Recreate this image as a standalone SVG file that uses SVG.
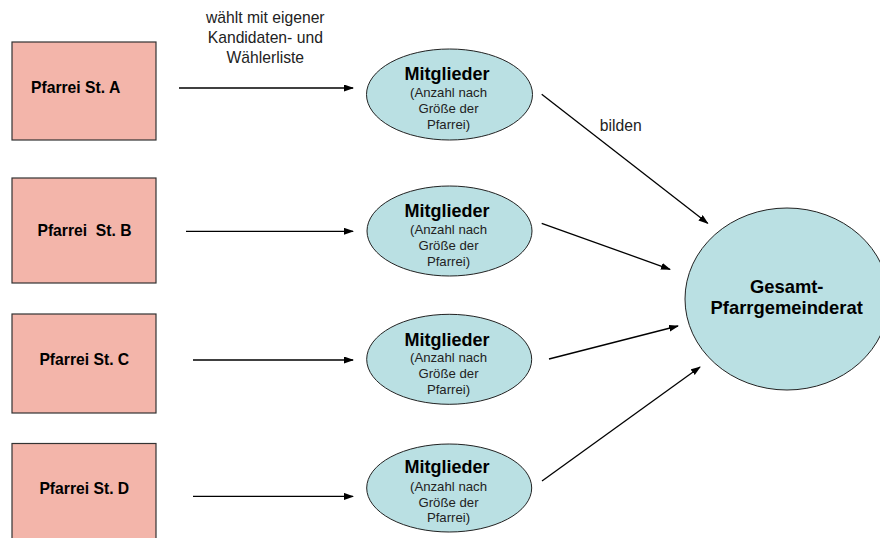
<svg xmlns="http://www.w3.org/2000/svg" width="880" height="538" viewBox="0 0 880 538">
<style>
.box{fill:#F3B5AA;stroke:#333;stroke-width:1.2}
.ell{fill:#BAE0E3;stroke:#222;stroke-width:1}
.t{font-family:"Liberation Sans",Arial,sans-serif;fill:#000}
.pf{font-size:15.7px;font-weight:bold;white-space:pre}
.mg{font-size:18px;font-weight:bold;text-anchor:middle}
.sub{font-size:13.2px;text-anchor:middle;fill:#222}
.lbl{font-size:15.7px;text-anchor:middle;fill:#222}
.big{font-size:18.4px;font-weight:bold;text-anchor:middle}
.ar{stroke:#000;stroke-width:1.3;fill:none;marker-end:url(#ah)}
</style>
<defs>
<marker id="ah" markerUnits="userSpaceOnUse" markerWidth="10" markerHeight="8" refX="9" refY="3.5" orient="auto">
<path d="M0,0 L10,3.5 L0,7 z" fill="#000"/>
</marker>
</defs>
<rect width="880" height="538" fill="#fff"/>
<g id="pfarrei-a"><rect class="box" x="12" y="42" width="144" height="98"/><text class="t pf" x="31" y="92.7">Pfarrei St. A</text></g>
<g id="pfarrei-b"><rect class="box" x="12" y="178" width="144" height="105"/><text class="t pf" x="84.5" y="236" text-anchor="middle">Pfarrei  St. B</text></g>
<g id="pfarrei-c"><rect class="box" x="12" y="314" width="144" height="99"/><text class="t pf" x="84.3" y="365" text-anchor="middle">Pfarrei St. C</text></g>
<g id="pfarrei-d"><rect class="box" x="12" y="443.5" width="144" height="100"/><text class="t pf" x="84.3" y="494" text-anchor="middle">Pfarrei St. D</text></g>

<g id="mitglieder-a"><ellipse class="ell" cx="449.5" cy="94.5" rx="83" ry="45.5"/>
<text class="t mg" x="447" y="79.5">Mitglieder</text>
<text class="t sub" x="448.5" y="97.3">(Anzahl nach</text>
<text class="t sub" x="448.5" y="113.3">Größe der</text>
<text class="t sub" x="448.5" y="129.3">Pfarrei)</text></g>
<g id="mitglieder-b"><ellipse class="ell" cx="449.5" cy="231" rx="82.5" ry="45"/>
<text class="t mg" x="447" y="217">Mitglieder</text>
<text class="t sub" x="448.5" y="234">(Anzahl nach</text>
<text class="t sub" x="448.5" y="250">Größe der</text>
<text class="t sub" x="448.5" y="266">Pfarrei)</text></g>
<g id="mitglieder-c"><ellipse class="ell" cx="449.2" cy="359.3" rx="82.5" ry="45"/>
<text class="t mg" x="447" y="345.7">Mitglieder</text>
<text class="t sub" x="448.5" y="362.3">(Anzahl nach</text>
<text class="t sub" x="448.5" y="378.3">Größe der</text>
<text class="t sub" x="448.5" y="394">Pfarrei)</text></g>
<g id="mitglieder-d"><ellipse class="ell" cx="449.2" cy="488" rx="82.5" ry="44"/>
<text class="t mg" x="447" y="473.3">Mitglieder</text>
<text class="t sub" x="448.5" y="490.7">(Anzahl nach</text>
<text class="t sub" x="448.5" y="506.7">Größe der</text>
<text class="t sub" x="448.5" y="522">Pfarrei)</text></g>

<g id="gesamt"><ellipse class="ell" cx="787" cy="299" rx="102" ry="91"/>
<text class="t big" x="786.7" y="293.3">Gesamt-</text>
<text class="t big" x="786.7" y="314">Pfarrgemeinderat</text></g>

<g id="connectors">
<line class="ar" x1="179" y1="88" x2="353" y2="88"/>
<line class="ar" x1="186" y1="231.3" x2="353" y2="231.3"/>
<line class="ar" x1="193" y1="360" x2="353" y2="360"/>
<line class="ar" x1="193" y1="496.4" x2="353" y2="496.4"/>
<line class="ar" x1="541.7" y1="94.3" x2="707.7" y2="223.3"/>
<line class="ar" x1="541.7" y1="223.3" x2="670" y2="269.3"/>
<line class="ar" x1="549" y1="359" x2="678" y2="326"/>
<line class="ar" x1="542" y1="481" x2="700" y2="367"/>
<text class="t lbl" x="265.3" y="23.3">wählt mit eigener</text>
<text class="t lbl" x="265.3" y="43">Kandidaten- und</text>
<text class="t lbl" x="265.3" y="62.7">Wählerliste</text>
<text class="t lbl" x="620.8" y="130.7">bilden</text>
</g>
</svg>
